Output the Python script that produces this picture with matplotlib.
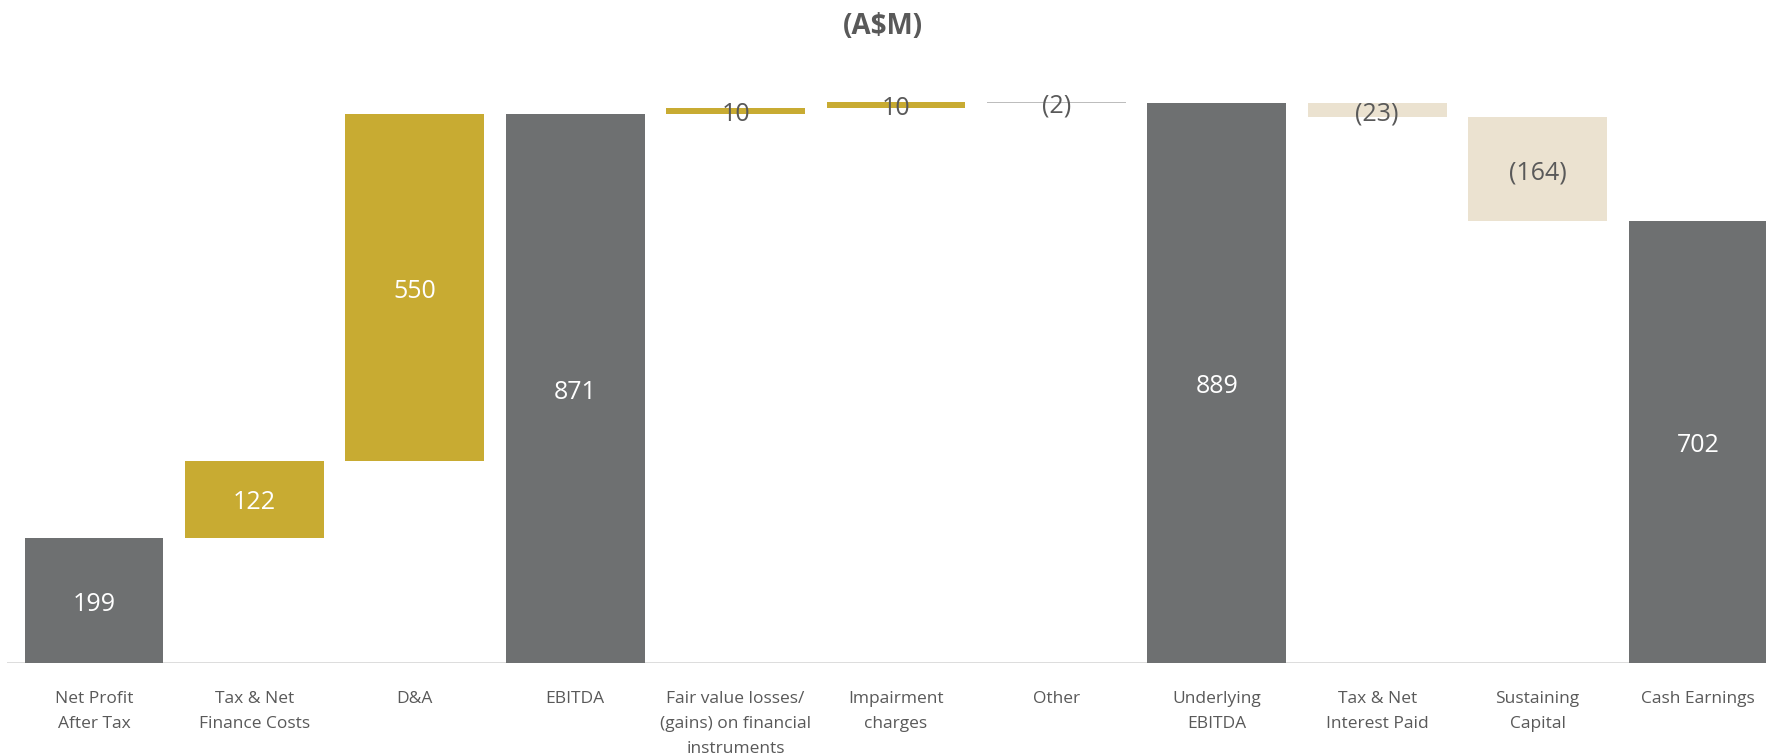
import matplotlib.pyplot as plt
import numpy as np

plt.rcParams['font.family'] = ['Open Sans', 'DejaVu Sans']

categories = ['Net Profit\nAfter Tax', 'Tax & Net\nFinance Costs', 'D&A', 'EBITDA',
              'Fair value losses/\n(gains) on financial\ninstruments', 'Impairment\ncharges',
              'Other', 'Underlying\nEBITDA', 'Tax & Net\nInterest Paid', 'Sustaining\nCapital',
              'Cash Earnings']
values = [199, 122, 550, 871, 10, 10, -2, 889, -23, -164, 702]
is_total = [True, False, False, True, False, False, False, True, False, False, True]
labels = ['199', '122', '550', '871', '10', '10', '(2)', '889', '(23)', '(164)', '702']

GREY = '#6e7071'
GOLD = '#c8ab32'
BEIGE = '#ebe2d0'
LINE = '#bdbdbd'
TEXT = '#595959'

# running total -> bar bottoms / heights
bottoms, heights, colors = [], [], []
running = 0
for v, tot in zip(values, is_total):
    if tot:
        bottoms.append(0)
        heights.append(v)
        colors.append(GREY)
        running = v
    else:
        start = running
        running = running + v
        bottoms.append(min(start, running))
        heights.append(abs(v))
        if v > 0:
            colors.append(GOLD)
        elif abs(v) < 5:
            colors.append(LINE)
        else:
            colors.append(BEIGE)

fig = plt.figure(figsize=(17.66, 7.55), dpi=100)
ax = fig.add_axes([7 / 1766, 92 / 755, 1 - 7 / 1766, 598.5 / 755])

x = np.arange(len(categories))
ax.bar(x, heights, bottom=bottoms, width=0.865, color=colors, linewidth=0)

for i in range(len(x)):
    yc = bottoms[i] + heights[i] / 2
    c = colors[i]
    if c == GREY or (c == GOLD and heights[i] > 50):
        tc = 'white'
    else:
        tc = TEXT
    ax.text(x[i], yc - 6, labels[i], ha='center', va='center', fontsize=18, color=tc)

ax.axhline(0, color='#d9d9d9', linewidth=2, zorder=0)

ax.set_xlim(-(94 - 7) / 160.4, (1766 - 94) / 160.4)
ax.set_ylim(0, 950)
ax.set_xticks(x)
ax.set_xticklabels(categories, fontsize=12.5, color=TEXT, linespacing=1.75)
ax.tick_params(axis='x', length=0, pad=20.5)
ax.set_yticks([])
for s in ax.spines.values():
    s.set_visible(False)

fig.text(0.5, 1 - 27 / 755, '(A$M)', ha='center', va='center', fontsize=20,
         fontweight='bold', color=TEXT)

fig.savefig('out.png', dpi=100)
